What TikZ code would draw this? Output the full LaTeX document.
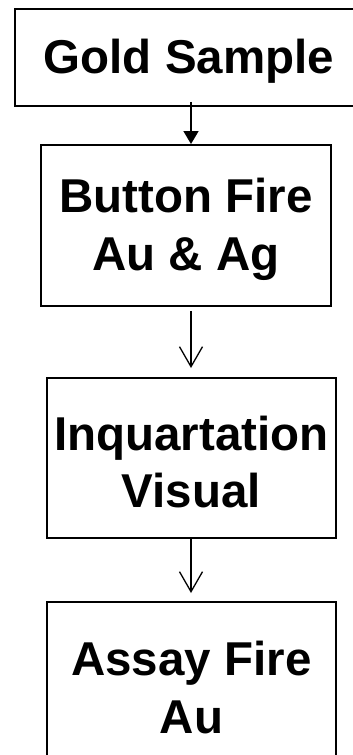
\documentclass[tikz,border=0pt]{standalone}
\usepackage{fontspec}
\setmainfont{Liberation Sans}
\usetikzlibrary{arrows.meta}
\begin{document}
\begin{tikzpicture}[
  box/.style={draw, line width=1.8pt, rectangle, inner sep=0pt, anchor=north west},
  txt/.style={inner sep=0pt, align=center, font=\fontsize{47.5}{57.5}\selectfont\bfseries},
  heavyarrow/.style={line width=1.8pt, -{Triangle[width=15pt,length=13pt]}},
  lightarrow/.style={line width=1.3pt, -{Straight Barb[width=23pt,length=20pt]}}
]
\useasboundingbox (0,0) rectangle (353pt,-755pt);
\clip (0,0) rectangle (353pt,-755pt);
\node[box, minimum width=348pt, minimum height=97pt] (b1) at (14pt,-8pt) {};
\node[box, minimum width=290pt, minimum height=161pt] (b2) at (40pt,-144pt) {};
\node[box, minimum width=289pt, minimum height=160pt] (b3) at (46pt,-377pt) {};
\node[box, minimum width=289pt, minimum height=163pt] (b4) at (46pt,-601pt) {};
\node[txt] (t1) at ([yshift=-4pt]b1.center) {Gold Sample};
\node[txt] (t2) at ([yshift=-4pt]b2.center) {Button Fire\\Au \& Ag};
\node[txt] (t3) at ([yshift=-4pt]b3.center) {Inquartation\\Visual};
\node[txt] (t4) at ([yshift=-4pt]b4.center) {Assay Fire\\Au};
\coordinate (ax) at (191pt,0);
\draw[heavyarrow] ([yshift=5pt]b1.south -| ax) -- (b2.north -| ax);
\draw[lightarrow] ([yshift=-4pt]b2.south -| ax) -- ([yshift=9pt]b3.north -| ax);
\draw[lightarrow] (b3.south -| ax) -- ([yshift=8pt]b4.north -| ax);
\end{tikzpicture}
\end{document}
